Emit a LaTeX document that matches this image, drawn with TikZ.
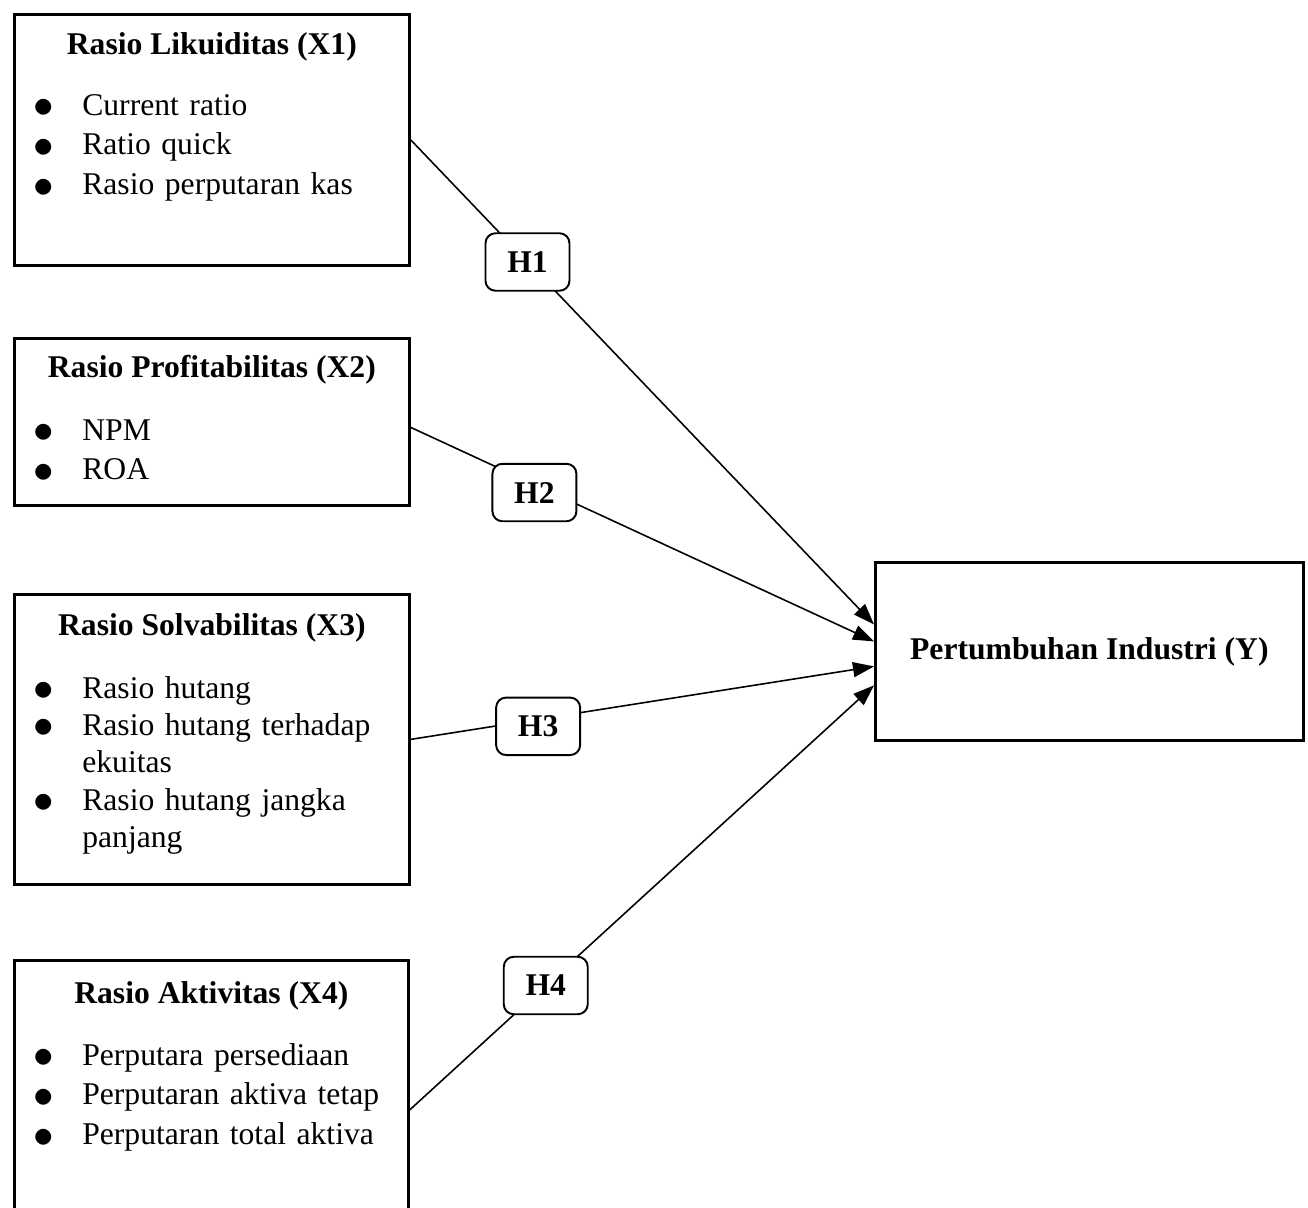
\documentclass[tikz,border=0pt]{standalone}
\usepackage{fontspec}
\setmainfont{Liberation Serif}
\usetikzlibrary{arrows.meta, positioning, calc}

\newcommand{\bul}[1]{\makebox[1.04cm][l]{\hspace{0.06cm}\raisebox{-0.08em}{\scalebox{1.35}{$\bullet$}}}#1}
\newcommand{\bulcont}[1]{\hspace*{1.04cm}#1}

\begin{document}
\begin{tikzpicture}[x=0.02cm, y=-0.02cm,
    varbox/.style={rectangle, draw, line width=1.6pt, inner sep=0pt, anchor=north west},
    judul/.style={anchor=base, inner sep=0pt, font=\fontsize{18}{22.7}\selectfont\bfseries},
    daftar/.style={anchor=base west, inner sep=0pt, text width=7.4cm, align=left, font=\fontsize{18}{22.7}\selectfont},
    hipo/.style={rectangle, draw, rounded corners=0.2cm, line width=1.1pt, fill=white, minimum width=1.68cm, minimum height=1.15cm, font=\fontsize{18}{22.7}\selectfont\bfseries},
    panah/.style={-{Triangle[length=0.42cm, width=0.3cm]}, line width=0.9pt}]
    \useasboundingbox (0,0) rectangle (1308,1207);

    % Variabel independen
    \node[varbox, minimum width=7.9cm, minimum height=5.02cm] (x1) at (13,13) {};
    \node[judul] (t1) at ([yshift=-0.84cm]x1.north) {Rasio Likuiditas (X1)};
    \node[daftar] (l1) at (30,115) {\bul{Current ratio}\\ \bul{Ratio quick}\\ \bul{Rasio perputaran kas}};

    \node[varbox, minimum width=7.9cm, minimum height=3.34cm] (x2) at (13,337) {};
    \node[judul] (t2) at ([yshift=-0.82cm]x2.north) {Rasio Profitabilitas (X2)};
    \node[daftar] (l2) at (30,440) {\bul{NPM}\\ \bul{ROA}};

    \node[varbox, minimum width=7.9cm, minimum height=5.8cm] (x3) at (13,593) {};
    \node[judul] (t3) at ([yshift=-0.84cm]x3.north) {Rasio Solvabilitas (X3)};
    \node[daftar, font=\fontsize{18}{21.3}\selectfont] (l3) at (30,698) {\bul{Rasio hutang}\\ \bul{Rasio hutang terhadap}\\ \bulcont{ekuitas}\\ \bul{Rasio hutang jangka}\\ \bulcont{panjang}};

    \node[varbox, minimum width=7.88cm, minimum height=5.98cm] (x4) at (13,959) {};
    \node[judul] (t4) at ([yshift=-0.88cm]x4.north) {Rasio Aktivitas (X4)};
    \node[daftar] (l4) at (30,1065) {\bul{Perputara persediaan}\\ \bul{Perputaran aktiva tetap}\\ \bul{Perputaran total aktiva}};

    % Variabel dependen
    \node[varbox, minimum width=8.56cm, minimum height=3.56cm, font=\fontsize{18}{22.7}\selectfont\bfseries] (y) at (874,561) {Pertumbuhan Industri (Y)};

    % Hipotesis
    \draw[panah] (x1.east) -- node[hipo, pos=0.252] (h1) {H1} ([yshift=0.54cm]y.west);
    \draw[panah] ([yshift=-0.11cm]x2.east) -- node[hipo, pos=0.267, yshift=-0.16cm] (h2) {H2} ([yshift=0.2cm]y.west);
    \draw[panah] (x3.east) -- node[hipo, pos=0.275, yshift=-0.14cm] (h3) {H3} ([yshift=-0.3cm]y.west);
    \draw[panah] (x4.east) -- node[hipo, pos=0.293] (h4) {H4} ([yshift=-0.68cm]y.west);
\end{tikzpicture}
\end{document}
